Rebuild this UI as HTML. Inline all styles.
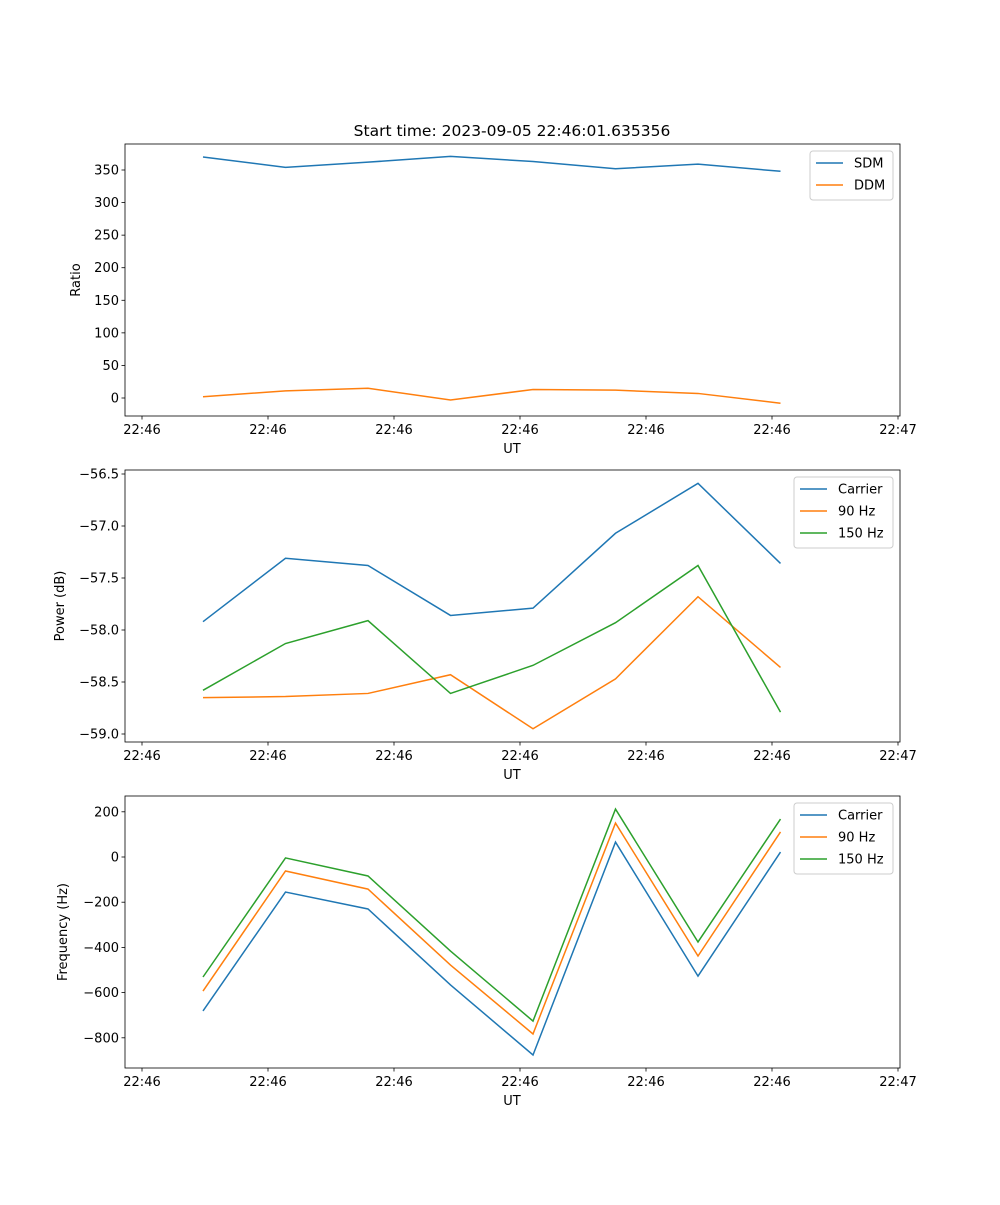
<!DOCTYPE html>
<html><head><meta charset="utf-8"><style>
body{margin:0;background:#fff;font-family:"Liberation Sans","DejaVu Sans",sans-serif;}
svg text{font-family:"DejaVu Sans","Liberation Sans",sans-serif;font-size:13px;fill:#000;}
</style></head><body>
<svg id="fig" width="1000" height="1200" xmlns="http://www.w3.org/2000/svg">
<rect width="1000" height="1200" fill="#fff"/>
<text x="512" y="136" text-anchor="middle" style="font-size:15.5px">Start time: 2023-09-05 22:46:01.635356</text>
</svg>
<script>
const samples=[0,1,2,3,4,5,6,7];
const xTickLabels=["22:46","22:46","22:46","22:46","22:46","22:46","22:47"];
const sdm=[370,354,362,371,363,352,359,348];
const ddm=[2,11,15,-3,13,12,7,-8];
const pwrCarrier=[-57.92,-57.31,-57.38,-57.86,-57.79,-57.07,-56.59,-57.36];
const pwr90=[-58.65,-58.64,-58.61,-58.43,-58.95,-58.47,-57.68,-58.36];
const pwr150=[-58.58,-58.13,-57.91,-58.61,-58.34,-57.93,-57.38,-58.79];
const frqCarrier=[-681,-155,-230,-566,-876,66,-527,22];
const frq90=[-593,-62,-142,-478,-783,150,-438,111];
const frq150=[-531,-4,-84,-416,-726,212,-376,168];
const ticks1=[0,50,100,150,200,250,300,350];
const ticks2=[-59.0,-58.5,-58.0,-57.5,-57.0,-56.5];
const ticks3=[-800,-600,-400,-200,0,200];
const C=["#1f77b4","#ff7f0e","#2ca02c"];
const NS="http://www.w3.org/2000/svg";
const svg=document.getElementById('fig');
function el(t,a,p){const e=document.createElementNS(NS,t);for(const k in a)e.setAttribute(k,a[k]);(p||svg).appendChild(e);return e;}
const X0=125,X1=900;
function xs(i){return 203+i*82.5;}
function panel(name,top,bot,v0,p0,v1,p1,ticks,fmt,ylabel,series,names,leg){
 const g=el('g',{});
 
 
 const ys=v=>p0+(v-v0)*(p1-p0)/(v1-v0);
 // series
 series.forEach((s,k)=>{
  const pl=el('polyline',{points:s.map((v,i)=>xs(samples[i])+','+ys(v)).join(' '),fill:'none',stroke:C[k],'stroke-width':1.5},g);
  
  
 });
 el('rect',{x:X0,y:top,width:X1-X0,height:bot-top,fill:'none',stroke:'#000','stroke-width':0.8},g);
 ticks.forEach(v=>{const y=ys(v);el('line',{x1:X0-3.5,x2:X0,y1:y,y2:y,stroke:'#000','stroke-width':0.8},g);
  const t=el('text',{x:X0-6,y:y+4.5,'text-anchor':'end'},g);t.textContent=fmt(v);
  });
 xTickLabels.forEach((l,k)=>{const x=142+k*126;el('line',{x1:x,x2:x,y1:bot,y2:bot+3.5,stroke:'#000','stroke-width':0.8},g);
  const t=el('text',{x:x,y:bot+18,'text-anchor':'middle'},g);t.textContent=l;
  });
 const xl=el('text',{x:512,y:bot+37,'text-anchor':'middle'},g);xl.textContent='UT';
 
 const yc=(top+bot)/2;const yl=el('text',{x:leg.yx,y:yc,'text-anchor':'middle',transform:'rotate(-90 '+leg.yx+' '+yc+')'},g);yl.textContent=ylabel;
 
 const lg=el('g',{},g);
 el('rect',{x:leg.x,y:top+7,width:leg.w,height:names.length*22+5,rx:3,fill:'#fff','fill-opacity':0.8,stroke:'#ccc'},lg);
 names.forEach((n,k)=>{const y=top+19+k*22;
  el('line',{x1:leg.x+6,x2:leg.x+33,y1:y,y2:y,stroke:C[k],'stroke-width':1.5},lg);
  const t=el('text',{x:leg.x+44,y:y+4.5},lg);t.textContent=n;
  });
}
panel('ratio',144,416,0,398,350,170,ticks1,v=>String(v),'Ratio',[sdm,ddm],['SDM','DDM'],{x:810,w:83,yx:80});
panel('power',470,742,-59,734,-56.5,474,ticks2,v=>'\u2212'+Math.abs(v).toFixed(1),'Power (dB)',[pwrCarrier,pwr90,pwr150],['Carrier','90 Hz','150 Hz'],{x:794,w:99,yx:64});
panel('frequency',796,1068,0,857,200,811.8,ticks3,v=>v<0?'\u2212'+Math.abs(v):String(v),'Frequency (Hz)',[frqCarrier,frq90,frq150],['Carrier','90 Hz','150 Hz'],{x:794,w:99,yx:67});
</script>
</body></html>
